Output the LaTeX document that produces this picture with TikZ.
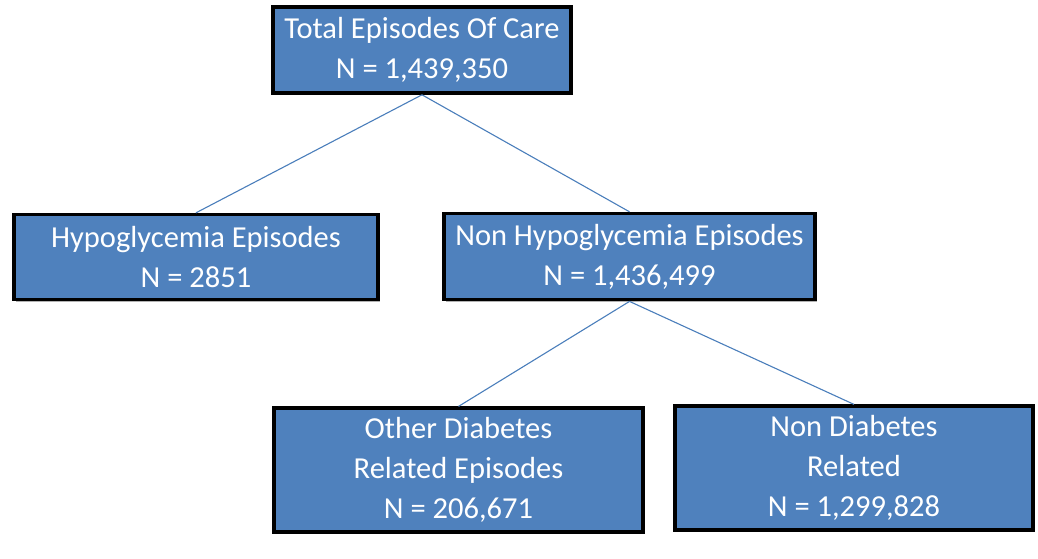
\documentclass[tikz,border=0pt]{standalone}
\usepackage{fontspec}
\setmainfont{Carlito}
\usepackage{tikz}
\usetikzlibrary{positioning,shadows}
\definecolor{boxblue}{HTML}{4F81BD}
\definecolor{lineblue}{HTML}{4A7EBB}
\tikzset{
    %Define style for boxes
    episodenode/.style={
             rectangle,
             draw=black, line width=3.6pt,
             fill=boxblue,
             text=white,
             align=center,
             inner sep=0pt,
             drop shadow={shadow xshift=1.5pt, shadow yshift=-2pt,
                          fill=black, opacity=0.3},
             font=\fontsize{30.5}{40}\selectfont},
    % Define line style
    splitline/.style={
            draw=lineblue,
            line width=1.1pt}
}
\begin{document}
\begin{tikzpicture}
 \useasboundingbox (0,0) rectangle (1038pt,-558pt);
 \node[episodenode, minimum width=298pt, minimum height=86pt] (total) at (422pt,-50pt)
      {Total Episodes Of Care\\N = 1,439,350};
 \node[episodenode, minimum width=364pt, minimum height=85pt,
       below=118pt of total, xshift=-226pt] (hypo)
      {Hypoglycemia Episodes\\N = 2851};
 \node[episodenode, minimum width=371pt, minimum height=86pt,
       below=117pt of total, xshift=207.5pt] (nonhypo)
      {Non Hypoglycemia Episodes\\N = 1,436,499};
 \node[episodenode, minimum width=369pt, minimum height=124pt,
       below=105pt of nonhypo, xshift=-171pt] (otherdiab)
      {Other Diabetes\\Related Episodes\\N = 206,671};
 \node[episodenode, minimum width=358pt, minimum height=124pt,
       below=103pt of nonhypo, xshift=224.5pt] (nondiab)
      {Non Diabetes\\Related\\N = 1,299,828};
 \path (total.south) edge[splitline] (hypo.north)
       (total.south) edge[splitline] (nonhypo.north)
       (nonhypo.south) edge[splitline] (otherdiab.north)
       (nonhypo.south) edge[splitline] (nondiab.north);
\end{tikzpicture}
\end{document}
